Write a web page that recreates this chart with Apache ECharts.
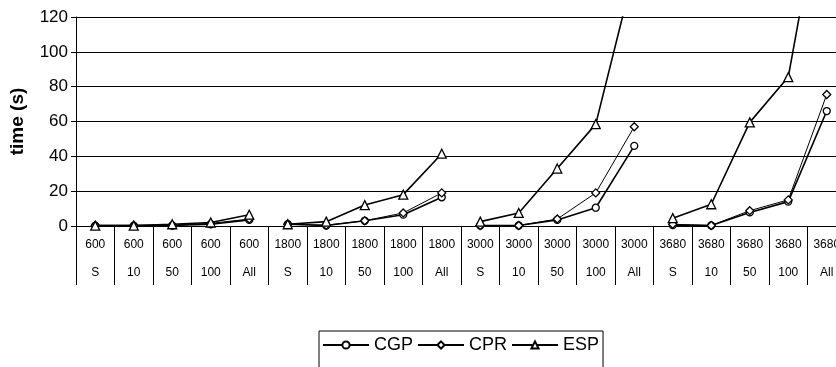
<!DOCTYPE html>
<html>
<head>
<meta charset="utf-8">
<script src="https://cdn.jsdelivr.net/npm/echarts@6/dist/echarts.min.js"></script>
<style>
  html, body { margin: 0; padding: 0; background: #fff; overflow: hidden; width: 836px; height: 367px; }
  /* the drawing surface is a little wider than the frame, so the last column is cut off */
  #chart { width: 846px; height: 380px; }
</style>
</head>
<body>
<div id="chart"></div>
<script>
// Problem sizes and query variants (two-row category labels)
const sizes = ['600', '1800', '3000', '3680'];
const variants = ['S', '10', '50', '100', 'All'];

// Run times in seconds, one value per (size, variant) pair
const CGP = [0.2, 0.2, 0.3, 1, 3.5,   1, 0.3, 3, 6.5, 16.5,   0.3, 0.3, 3.5, 10.5, 46,   0.5, 0.3, 7.8, 14, 66];
const CPR = [0.3, 0.3, 0.5, 1.5, 4,   1, 0.5, 3, 7.5, 19,     0.3, 0.3, 4, 19, 57,       1, 0.3, 8.8, 15, 75.5];
const ESP = [0.2, 0.2, 1, 2, 6.5,     1, 2.5, 12, 18, 41.5,   2.5, 7.5, 33, 58.5, 147,   4.5, 12.5, 59.5, 85.5, 207];

const yTicks = { min: 0, max: 120, interval: 20 };

const categories = [];
sizes.forEach(s => variants.forEach(v => categories.push(s + '\n' + v)));

const styles = {
  CGP: { symbol: 'circle', size: 7, width: 1.6 },
  CPR: { symbol: 'diamond', size: 8, width: 1 },
  ESP: { symbol: 'triangle', size: 9, width: 1.6 }
};

// Each size forms its own segment, so lines break between groups
function segments(name, values) {
  const st = styles[name];
  return sizes.map((s, g) => ({
    name: name,
    type: 'line',
    data: values.map((v, i) => (Math.floor(i / variants.length) === g ? v : null)),
    symbol: st.symbol,
    symbolSize: st.size,
    showAllSymbol: true,
    clip: true,
    lineStyle: { color: '#000', width: st.width },
    itemStyle: { color: '#fff', borderColor: '#000', borderWidth: 1.3 },
    emphasis: { disabled: true },
    animation: false
  }));
}

const chart = echarts.init(document.getElementById('chart'), null, { renderer: 'canvas' });
chart.setOption({
  backgroundColor: '#fff',
  animation: false,
  grid: { left: 76, top: 17, right: 0, bottom: 154, containLabel: false },
  legend: {
    data: ['CGP', 'CPR', 'ESP'],
    left: 319,
    top: 331,
    orient: 'horizontal',
    itemWidth: 46,
    itemHeight: 9,
    itemGap: 4,
    padding: [5, 4, 22, 3],
    borderColor: '#000',
    borderWidth: 1,
    textStyle: { fontFamily: 'Liberation Sans, Arial, sans-serif', fontSize: 18, color: '#000' }
  },
  xAxis: {
    type: 'category',
    data: categories,
    boundaryGap: true,
    axisLine: { show: true, lineStyle: { color: '#000', width: 1 } },
    axisTick: { show: true, interval: 0, length: 59, lineStyle: { color: '#000', width: 1 } },
    axisLabel: {
      interval: 0,
      margin: 5,
      fontFamily: 'Liberation Sans, Arial, sans-serif',
      fontSize: 12,
      lineHeight: 28,
      color: '#000'
    },
    splitLine: { show: false }
  },
  yAxis: {
    type: 'value',
    min: yTicks.min,
    max: yTicks.max,
    interval: yTicks.interval,
    name: 'time (s)',
    nameLocation: 'middle',
    nameGap: 49,
    nameTextStyle: { fontFamily: 'Liberation Sans, Arial, sans-serif', fontSize: 19, fontWeight: 'bold', color: '#000' },
    axisLine: { show: true, lineStyle: { color: '#000', width: 1 } },
    axisTick: { show: true, length: 5, lineStyle: { color: '#000' } },
    axisLabel: { margin: 8, fontFamily: 'Liberation Sans, Arial, sans-serif', fontSize: 17, color: '#000' },
    splitLine: { show: true, lineStyle: { color: '#000', width: 1 } }
  },
  series: [].concat(segments('CGP', CGP), segments('CPR', CPR), segments('ESP', ESP))
});
</script>
</body>
</html>
